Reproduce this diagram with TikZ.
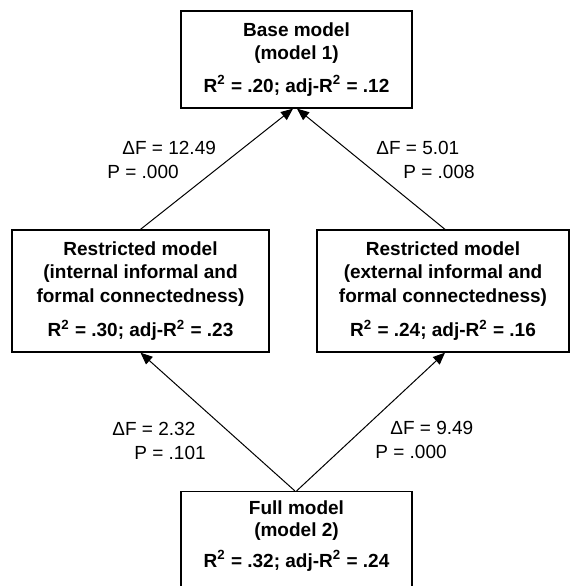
\documentclass[tikz,border=0pt]{standalone}
\usepackage{fontspec}
\setmainfont{Liberation Sans}
\usetikzlibrary{arrows.meta}
\newcommand{\rsq}{R\textsuperscript{2}}
\begin{document}
\begin{tikzpicture}[x=0.5pt,y=-0.5pt,
  box/.style={draw, line width=0.65pt, rectangle, inner sep=0pt, align=center,
    font=\bfseries\fontsize{9.5}{11.8}\selectfont},
  boxtext/.style={inner sep=0pt, align=center, font=\bfseries\fontsize{9.5}{11}\selectfont},
  lab/.style={anchor=west, inner sep=0pt, font=\fontsize{9.5}{11.4}\selectfont},
  arr/.style={line width=0.5pt, -{Triangle[length=6pt,width=5pt]}}]
\useasboundingbox (0,0) rectangle (570,586);
\clip (0,0) rectangle (570,586);

\node[box, minimum width=115.5pt, minimum height=48.5pt] (base) at (296.5,59.5)
  {Base model\\(model 1)\\[4.5pt]\rsq{} = .20; adj-\rsq{} = .12};
\node[box, minimum width=128.5pt, minimum height=61pt] (left) at (140.5,291)
  {Restricted model\\(internal informal and\\formal connectedness)\\[5.5pt]\rsq{} = .30; adj-\rsq{} = .23};
\node[box, minimum width=126pt, minimum height=61pt] (right) at (443,291)
  {Restricted model\\(external informal and\\formal connectedness)\\[5.5pt]\rsq{} = .24; adj-\rsq{} = .16};
\node[box, minimum width=115.5pt, minimum height=55pt, anchor=north] (full) at (296.5,491) {};
\node[boxtext] (fulltext) at (296.5,536)
  {Full model\\(model 2)\\[4.5pt]\rsq{} = .32; adj-\rsq{} = .24};

\draw[arr] (left.north) -- ([xshift=-1.75pt]base.south);
\draw[arr] ([xshift=1pt]right.north) -- ([xshift=0.25pt]base.south);
\draw[arr] ([xshift=-0.75pt]full.north) -- (left.south);
\draw[arr] (full.north) -- ([xshift=1pt]right.south);

\node[lab] (l1a) at (122,148) {ΔF = 12.49};
\node[lab] (l1b) at (107,172) {P = .000};
\node[lab] (l2a) at (376,148) {ΔF = 5.01};
\node[lab] (l2b) at (403,172) {P = .008};
\node[lab] (l3a) at (112,429) {ΔF = 2.32};
\node[lab] (l3b) at (134,453) {P = .101};
\node[lab] (l4a) at (390,428) {ΔF = 9.49};
\node[lab] (l4b) at (375,452) {P = .000};
\end{tikzpicture}
\end{document}
